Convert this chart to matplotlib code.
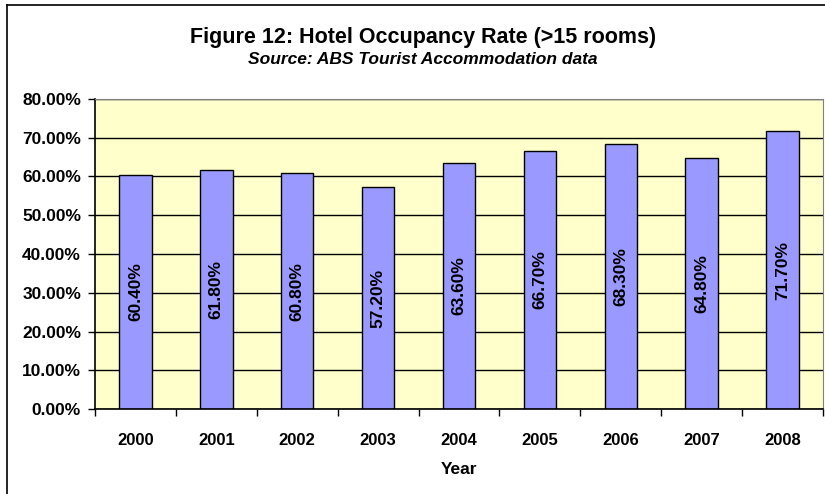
import matplotlib
matplotlib.use("Agg")
import matplotlib.pyplot as plt
from matplotlib.lines import Line2D
from matplotlib.ticker import FuncFormatter
import numpy as np

years = ["2000", "2001", "2002", "2003", "2004", "2005", "2006", "2007", "2008"]
occupancy = [60.4, 61.8, 60.8, 57.2, 63.6, 66.7, 68.3, 64.8, 71.7]
bar_labels = ["60.40%", "61.80%", "60.80%", "57.20%", "63.60%",
              "66.70%", "68.30%", "64.80%", "71.70%"]

plt.rcParams['font.family'] = ['Liberation Sans', 'DejaVu Sans']

W, H = 825, 494
fig = plt.figure(figsize=(W / 100, H / 100), dpi=100)
fig.patch.set_facecolor("white")

# chart frame (cut off on the right and bottom)
fig.add_artist(Line2D([7 / W, 7 / W], [-0.1, 1 - 5 / H], transform=fig.transFigure,
                      color="black", lw=1.2))
fig.add_artist(Line2D([7 / W, 1.1], [1 - 5 / H, 1 - 5 / H], transform=fig.transFigure,
                      color="black", lw=1.2))

ax = fig.add_axes([95 / W, 1 - 409 / H, (823 - 95) / W, (409 - 99) / H])
ax.set_facecolor("#FFFFCC")

x = np.arange(len(years))
ax.set_axisbelow(True)
ax.yaxis.grid(True, color="black", lw=1.0)
bars = ax.bar(x, occupancy, width=0.4, color="#9999FF", edgecolor="black", lw=1.0)

for xi, v, lab in zip(x, occupancy, bar_labels):
    ax.text(xi, v / 2, lab, rotation=90, ha="center", va="center",
            fontsize=12.5, fontweight="bold")

ax.set_xlim(-0.5, len(years) - 0.5)
ax.set_ylim(0, 80)
ax.set_yticks(np.arange(0, 81, 10))
ax.yaxis.set_major_formatter(FuncFormatter(lambda v, p: f"{v:.2f}%"))
ax.set_xticks(x)
ax.set_xticklabels(years)
ax.set_xticks(np.arange(-0.5, len(years)), minor=True)
ax.tick_params(axis="x", which="major", length=0, pad=17)
ax.tick_params(axis="x", which="minor", length=5, direction="out", width=1)
ax.tick_params(axis="y", length=5, direction="out", width=1, pad=5)
for t in ax.get_xticklabels():
    t.set_fontsize(12)
    t.set_fontweight("bold")
for t in ax.get_yticklabels():
    t.set_fontsize(12.5)
    t.set_fontweight("bold")

for s in ["top", "right"]:
    ax.spines[s].set_color("#808080")
for s in ["left", "bottom"]:
    ax.spines[s].set_color("black")
    ax.spines[s].set_linewidth(1.2)

ax.set_xlabel("Year", fontsize=12.5, fontweight="bold", labelpad=10)

fig.text(423 / W, 1 - 37 / H, "Figure 12: Hotel Occupancy Rate (>15 rooms)",
         ha="center", va="center", fontsize=15.5, fontweight="bold")
fig.text(423 / W, 1 - 60 / H, "Source: ABS Tourist Accommodation data",
         ha="center", va="center", fontsize=12.5, fontweight="bold", style="italic")

fig.savefig("out.png", dpi=100)
